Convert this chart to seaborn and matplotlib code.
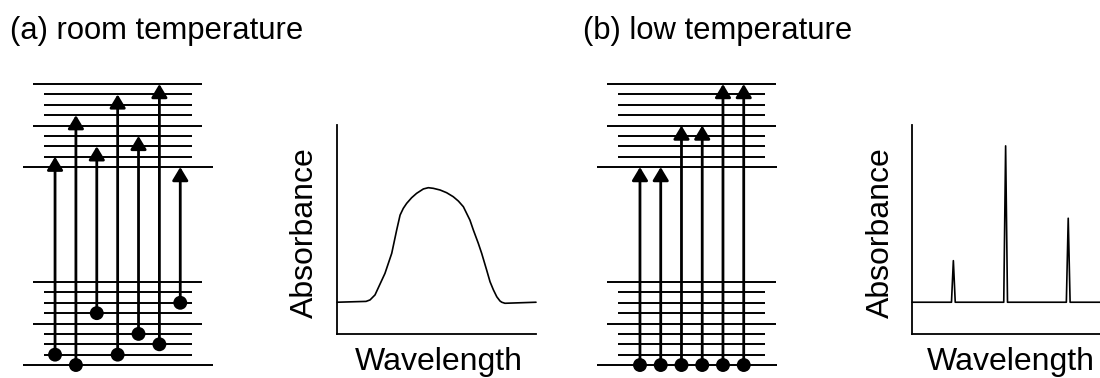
import matplotlib
matplotlib.use("Agg")
import matplotlib.pyplot as plt
import seaborn as sns

# ---- data ------------------------------------------------------------------
# vibrational sub-levels of the ground and excited electronic states
vib_levels = [0, 1, 2, 3, 4, 5, 6, 7, 8]
electronic_gap = 19.08          # excited state origin, in vibrational spacings

# transitions (ground v -> excited v') for each panel
room_from = [1, 0, 5, 1, 3, 2, 6]
room_to = [1, 5, 2, 7, 3, 8, 0]
low_from = [0, 0, 0, 0, 0, 0]
low_to = [0, 0, 4, 4, 8, 8]

# absorbance spectra (wavelength / absorbance in arbitrary units)
room_wl = [0, 14.6, 16.6, 19.1, 24.1, 27.5, 30.0, 31.7, 33.3, 35.0, 37.5, 40.0,
           43.4, 45.9, 48.4, 51.8, 55.1, 58.4, 61.0, 63.5, 66.8, 68.5, 71.0,
           72.7, 75.2, 76.9, 78.6, 80.3, 81.9, 82.8, 84.4, 100]
room_abs = [15.2, 15.6, 16.3, 18.7, 29.0, 38.6, 49.8, 56.9, 60.1, 62.5, 65.2, 67.3,
            69.4, 70.0, 69.7, 68.9, 67.6, 65.7, 63.6, 60.9, 54.5, 49.8, 43.4,
            38.6, 30.6, 25.0, 21.1, 17.8, 15.8, 15.2, 14.7, 15.2]
low_wl = [0, 21.0, 22.0, 23.0, 48.8, 49.8, 50.8, 82.1, 83.1, 84.1, 100]
low_abs = [15.2, 15.2, 35.1, 15.2, 15.2, 90.0, 15.2, 15.2, 55.4, 15.2, 15.2]

titles = ["(a) room temperature", "(b) low temperature"]

# ---- style -----------------------------------------------------------------
sns.set_theme(style="white")
plt.rcParams["font.family"] = ["Liberation Sans", "DejaVu Sans"]
plt.rcParams["text.color"] = "black"

W, H = 1100, 378
fig = plt.figure(figsize=(11, 3.78), dpi=100)


def px_axes(left, top, right, bottom):
    ax = fig.add_axes([left / W, 1 - bottom / H, (right - left) / W, (bottom - top) / H])
    ax.set_facecolor("none")
    return ax


def draw_levels(ax, src, dst, extents):
    # horizontal level lines
    for base in (0, electronic_gap):
        for v in vib_levels:
            kind = "long" if v == 0 else ("mid" if v % 4 == 0 else "short")
            x0, x1 = extents[kind]
            ax.hlines(base + v, x0, x1, color="black", lw=1.4, zorder=1)
    # transition arrows
    cols = list(range(len(src)))
    for c, a, b in zip(cols, src, dst):
        ax.annotate("", xy=(c, electronic_gap + b), xytext=(c, a),
                    arrowprops=dict(arrowstyle="-|>,head_length=0.5,head_width=0.3",
                                    lw=2.0, color="black", mutation_scale=16,
                                    shrinkA=0, shrinkB=0), zorder=3)
    sns.scatterplot(x=cols, y=src, ax=ax, color="black", s=100,
                    edgecolor="none", zorder=4, clip_on=False, legend=False)
    ax.set_ylim(-1, 28.5)
    ax.axis("off")


def draw_spectrum(ax, wl, ab, xlab_x):
    sns.lineplot(x=wl, y=ab, ax=ax, color="black", lw=1.2, clip_on=False)
    ax.set_xlim(0, 100)
    ax.set_ylim(0, 100)
    ax.set_xticks([])
    ax.set_yticks([])
    for s in ("top", "right"):
        ax.spines[s].set_visible(False)
    for s in ("left", "bottom"):
        ax.spines[s].set_color("black")
        ax.spines[s].set_linewidth(1.3)
    ax.set_xlabel("")
    ax.set_ylabel("")
    ax.text(-0.085, 0.483, "Absorbance", rotation=90, ha="right", va="center",
            fontsize=23, color="black", transform=ax.transAxes)
    ax.text(xlab_x, -0.172, "Wavelength", ha="center", va="baseline",
            fontsize=23, color="black", transform=ax.transAxes)


# (a) room temperature
ax1 = px_axes(13.3, 69.3, 222.0, 375.4)
ax1.set_xlim(-2, 8)
draw_levels(ax1, room_from, room_to,
            {"long": (-1.55, 7.55), "mid": (-1.05, 7.05), "short": (-0.55, 6.55)})

ax2 = px_axes(337, 125, 536, 334)
draw_spectrum(ax2, room_wl, room_abs, 0.51)

# (b) low temperature
ax3 = px_axes(588.1, 69.3, 795.6, 375.4)
ax3.set_xlim(-2.5, 7.5)
draw_levels(ax3, low_from, low_to,
            {"long": (-2.07, 6.6), "mid": (-1.6, 6.55), "short": (-1.06, 6.03)})

ax4 = px_axes(912, 125, 1100, 334)
draw_spectrum(ax4, low_wl, low_abs, 0.527)

fig.text(10 / W, 1 - 39 / H, titles[0], fontsize=22.3, color="black",
         ha="left", va="baseline")
fig.text(583 / W, 1 - 39 / H, titles[1], fontsize=22.3, color="black",
         ha="left", va="baseline")

fig.savefig("out.png", dpi=100)
